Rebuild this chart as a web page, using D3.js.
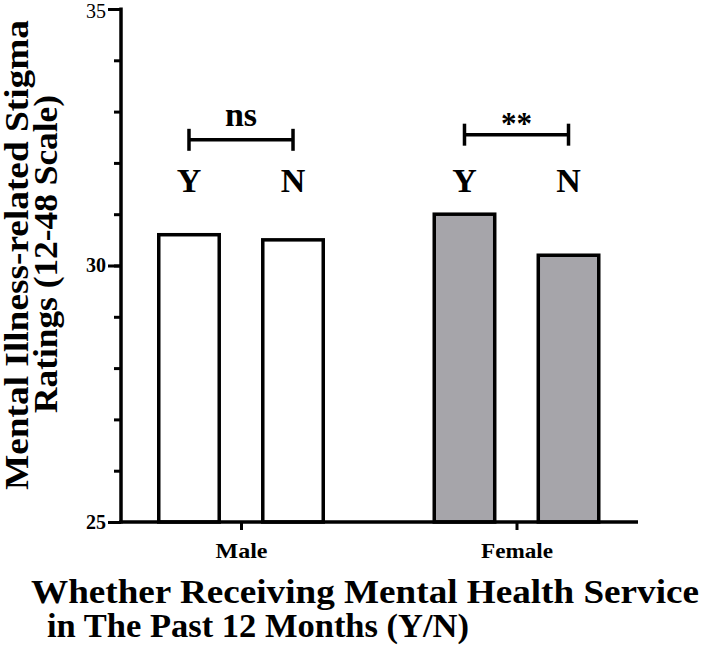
<!DOCTYPE html>
<html>
<head>
<meta charset="utf-8">
<script src="https://cdn.jsdelivr.net/npm/d3@7"></script>
<style>
  body { margin: 0; background: #fff; }
  text { font-family: "Liberation Serif", "Times New Roman", serif; font-weight: bold; fill: #000; }
</style>
</head>
<body>
<div id="chart"></div>
<script>
// data
var groups = ["Male", "Female"];
var services = ["Y", "N"];
var maleValues = [30.6, 30.5];
var femaleValues = [31.0, 30.2];
var fills = ["#ffffff", "#a6a5aa"];
var sigLabels = ["ns", "**"];
var sigLevels = [32.45, 32.55];
var yTicks = [25, 30, 35];

var width = 707, height = 660;
var padding = { top: 9, right: 69, bottom: 138, left: 121 };
var innerW = width - padding.left - padding.right;
var innerH = height - padding.top - padding.bottom;

var svg = d3.select("#chart").append("svg")
    .attr("width", width)
    .attr("height", height);

var g = svg.append("g")
    .attr("transform", "translate(" + padding.left + "," + padding.top + ")");

var yScale = d3.scaleLinear().domain([25, 35]).range([innerH, 0]);
var xGroup = d3.scalePoint().domain(groups).range([120, 395.5]);
var xSub = d3.scaleBand().domain(services).range([-84, 84]).paddingInner(0.385);

var rows = [];
groups.forEach(function(gr, i) {
    var vals = i == 0 ? maleValues : femaleValues;
    services.forEach(function(s, j) {
        rows.push({ group: gr, gi: i, service: s, value: vals[j] });
    });
});

// bars
g.selectAll("rect.bar")
    .data(rows)
    .enter()
    .append("rect")
    .attr("class", "bar")
    .attr("x", function(d) { return xGroup(d.group) + xSub(d.service) + 1.75; })
    .attr("width", xSub.bandwidth() - 3.5)
    .attr("y", function(d) { return yScale(d.value); })
    .attr("height", function(d) { return yScale(25) - yScale(d.value); })
    .attr("fill", function(d) { return fills[d.gi]; })
    .attr("stroke", "#000")
    .attr("stroke-width", 3.5);

// y axis: minor ticks every 1, major at 25/30/35
var yAxisMinor = d3.axisLeft(yScale).tickValues(d3.range(25, 36, 1)).tickSize(7).tickFormat("");
var ya = g.append("g").call(yAxisMinor);
ya.selectAll("line").attr("stroke", "#000").attr("stroke-width", 3);
ya.select(".domain").remove();

var yAxisMajor = d3.axisLeft(yScale).tickValues(yTicks).tickSize(13).tickPadding(2).tickFormat(d3.format("d"));
var yb = g.append("g").call(yAxisMajor);
yb.selectAll("line").attr("stroke", "#000").attr("stroke-width", 3);
yb.select(".domain").remove();
yb.selectAll("text")
    .attr("font-size", 20)
    .attr("dy", function(d) { return d == 35 ? "0.42em" : "0.32em"; })
    .style("font-family", "'Liberation Serif', serif")
    .style("font-weight", function(d) { return d == 35 ? "normal" : "bold"; })
    .attr("fill", "#000");

g.append("line")
    .attr("x1", 0).attr("x2", 0)
    .attr("y1", yScale(35) - 1.5).attr("y2", yScale(25) + 1.5)
    .attr("stroke", "#000").attr("stroke-width", 3.5);

// x axis
var xAxis = d3.axisBottom(xGroup).tickSize(8).tickPadding(12);
var xa = g.append("g")
    .attr("transform", "translate(0," + innerH + ")")
    .call(xAxis);
xa.select(".domain").remove();
xa.selectAll("line").attr("stroke", "#000").attr("stroke-width", 3);
xa.selectAll("text")
    .attr("font-size", 22)
    .attr("dy", "0.71em")
    .attr("textLength", function(d) { return d == "Male" ? 52 : 72; })
    .attr("lengthAdjust", "spacingAndGlyphs")
    .style("font-family", "'Liberation Serif', serif")
    .style("font-weight", "bold")
    .attr("fill", "#000");

g.append("line")
    .attr("x1", -1.75).attr("x2", innerW)
    .attr("y1", innerH).attr("y2", innerH)
    .attr("stroke", "#000").attr("stroke-width", 3.5);

// Y / N labels above bars
g.selectAll("text.yn")
    .data(rows)
    .enter()
    .append("text")
    .attr("class", "yn")
    .attr("x", function(d) { return xGroup(d.group) + xSub(d.service) + xSub.bandwidth() / 2; })
    .attr("y", yScale(31.43))
    .attr("text-anchor", "middle")
    .attr("font-size", 34)
    .text(function(d) { return d.service; });

// significance brackets
groups.forEach(function(gr, i) {
    var x1 = xGroup(gr) + xSub("Y") + xSub.bandwidth() / 2;
    var x2 = xGroup(gr) + xSub("N") + xSub.bandwidth() / 2;
    var yy = yScale(sigLevels[i]);
    var br = g.append("g");
    br.append("line").attr("x1", x1).attr("x2", x2).attr("y1", yy).attr("y2", yy);
    br.append("line").attr("x1", x1).attr("x2", x1).attr("y1", yy - 11).attr("y2", yy + 11);
    br.append("line").attr("x1", x2).attr("x2", x2).attr("y1", yy - 11).attr("y2", yy + 11);
    br.selectAll("line").attr("stroke", "#000").attr("stroke-width", 3.5);
    br.append("text")
        .attr("x", (x1 + x2) / 2)
        .attr("y", yy - (i == 0 ? 14 : 1))
        .attr("text-anchor", "middle")
        .attr("font-size", i == 0 ? 34 : 31)
        .text(sigLabels[i]);
});

// axis titles
svg.append("text")
    .attr("x", 365)
    .attr("y", 603)
    .attr("text-anchor", "middle")
    .attr("font-size", 34)
    .attr("textLength", 668)
    .attr("lengthAdjust", "spacingAndGlyphs")
    .text("Whether Receiving Mental Health Service");
svg.append("text")
    .attr("x", 258)
    .attr("y", 637)
    .attr("text-anchor", "middle")
    .attr("font-size", 34)
    .attr("textLength", 422)
    .attr("lengthAdjust", "spacingAndGlyphs")
    .text("in The Past 12 Months (Y/N)");

svg.append("text")
    .attr("transform", "translate(28,255) rotate(-90)")
    .attr("text-anchor", "middle")
    .attr("font-size", 33)
    .attr("textLength", 470)
    .attr("lengthAdjust", "spacingAndGlyphs")
    .text("Mental Illness-related Stigma");
svg.append("text")
    .attr("transform", "translate(57,254) rotate(-90)")
    .attr("text-anchor", "middle")
    .attr("font-size", 33)
    .attr("textLength", 318)
    .attr("lengthAdjust", "spacingAndGlyphs")
    .text("Ratings (12-48 Scale)");
</script>
</body>
</html>
